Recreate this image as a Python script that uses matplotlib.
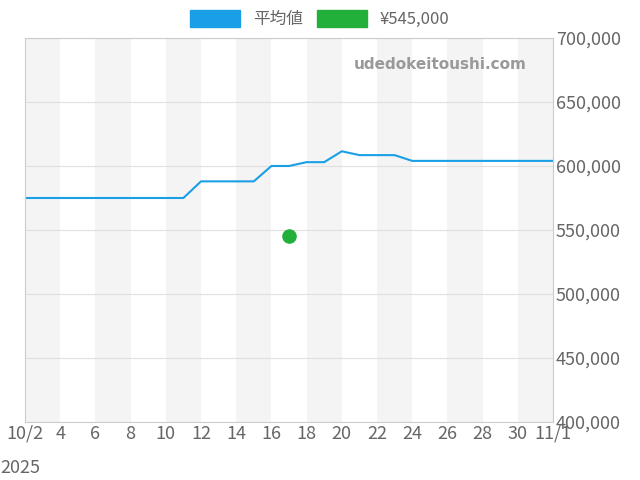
import matplotlib
matplotlib.use("Agg")
import matplotlib.pyplot as plt
from matplotlib.patches import Patch

plt.rcParams['font.family'] = ['Noto Sans CJK JP', 'DejaVu Sans']

# day index 0 = 10/2 ... 30 = 11/1
days = list(range(31))
avg = [575000] * 10 + [588000] * 4 + [600000] * 2 + [603000] * 2 + [611500] + [608500] * 3 + [604000] * 9
point_day = 15
point_val = 545000
tick_pos = list(range(0, 31, 2))
tick_labels = ["10/2\n2025"] + [str(d) for d in range(4, 31, 2)] + ["11/1"]
tick_labels[0] = "10/2"

fig = plt.figure(figsize=(6.4, 4.8), dpi=100)
ax = fig.add_axes([25 / 640, 1 - 422 / 480, 528 / 640, 384 / 480])

for start in range(0, 30, 4):
    ax.axvspan(start, start + 2, color="#f4f4f4", lw=0)
for y in range(450000, 700001, 50000):
    ax.axhline(y, color="#e0e0e0", lw=0.8)

ax.plot(days, avg, color="#1a9fe6", lw=1.5)
ax.scatter([point_day], [point_val], color="#22b03a", s=90, zorder=3)

ax.set_xlim(0, 30)
ax.set_ylim(400000, 700000)
ax.set_xticks(tick_pos)
ax.set_xticklabels(tick_labels)
ax.yaxis.tick_right()
ax.set_yticks(range(400000, 700001, 50000))
ax.set_yticklabels([f"{v:,}" for v in range(400000, 700001, 50000)])
ax.tick_params(colors="#666666", labelsize=13, length=0, pad=2)
for s in ax.spines.values():
    s.set_color("#cccccc")
fig.text(0, 0.015, "2025", fontsize=13, color="#666666")

ax.text(0.95, 0.93, "udedokeitoushi.com", transform=ax.transAxes, ha="right", va="center",
        fontsize=11, color="#999999", fontweight="bold", family="DejaVu Sans")

handles = [Patch(color="#1a9fe6", label="平均値"), Patch(color="#22b03a", label="¥545,000")]
fig.legend(handles=handles, loc="upper center", bbox_to_anchor=(0.5, 1.01), ncol=2, frameon=False,
           fontsize=12, handlelength=3, handleheight=1.2, labelcolor="#666666", columnspacing=0.8)

fig.savefig("out.png", dpi=100)
